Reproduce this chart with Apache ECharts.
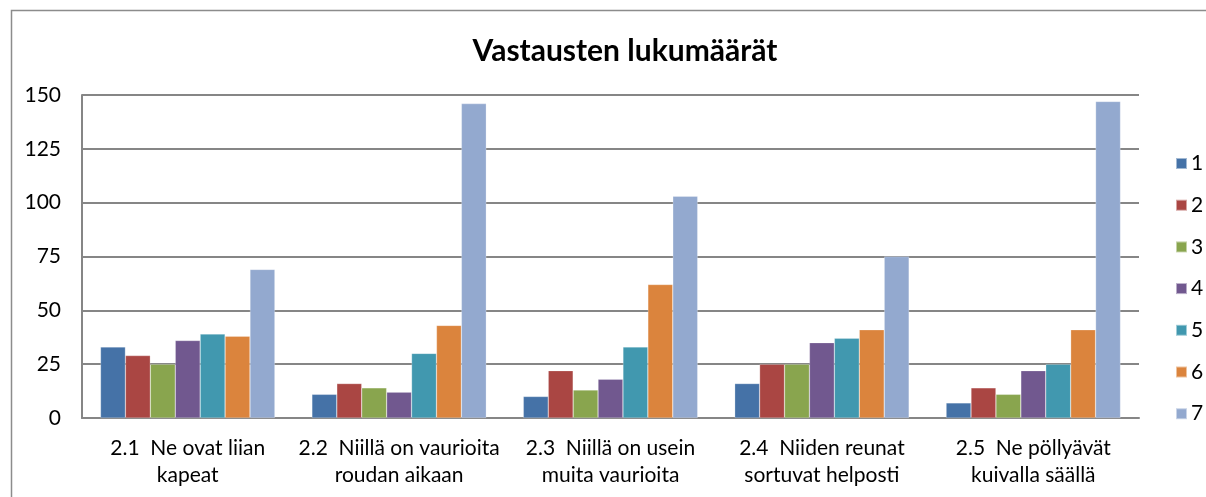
<!DOCTYPE html>
<html><head><meta charset="utf-8">
<script src="https://cdn.jsdelivr.net/npm/echarts@6/dist/echarts.min.js"></script>
<style>html,body{margin:0;padding:0;background:#fff;overflow:hidden;width:1206px;height:497px}#c{width:1206px;height:497px}</style>
</head><body><div id="c"></div>
<script>
const categories = [
  "2.1  Ne ovat liian\nkapeat",
  "2.2  Niillä on vaurioita\nroudan aikaan",
  "2.3  Niillä on usein\nmuita vaurioita",
  "2.4  Niiden reunat\nsortuvat helposti",
  "2.5  Ne pöllyävät\nkuivalla säällä"
];
const seriesNames = ["1","2","3","4","5","6","7"];
const s1 = [33, 11, 10, 16, 7];
const s2 = [29, 16, 22, 25, 14];
const s3 = [25, 14, 13, 25, 11];
const s4 = [36, 12, 18, 35, 22];
const s5 = [39, 30, 33, 37, 25];
const s6 = [38, 43, 62, 41, 41];
const s7 = [69, 146, 103, 75, 147];
const colors = ["#4572A7","#AA4643","#89A54E","#71588F","#4198AF","#DB843D","#93A9CF"];
const allData = [s1,s2,s3,s4,s5,s6,s7];
const FONT = "Lato, 'Open Sans', sans-serif";

const chart = echarts.init(document.getElementById('c'), null, {renderer:'canvas', width:1206, height:497});
chart.setOption({
  animation:false,
  backgroundColor:'#fff',
  color: colors,
  title:{text:'Vastausten lukumäärät', left:620, textAlign:'center', top:31,
    textStyle:{fontFamily:FONT, fontSize:30, fontWeight:'bold', color:'#000'}},
  graphic:[{type:'polyline', shape:{points:[[11.5,497],[11.5,10.5],[1206,10.5]]}, style:{fill:null, stroke:'#8c8c8c', lineWidth:1.5}, silent:true, z:-10}],
  legend:{orient:'vertical', left:1175, top:153, itemWidth:11, itemHeight:11, itemGap:20.7,
    icon:'rect', data:seriesNames, padding:0,
    textStyle:{fontFamily:FONT, fontSize:21, color:'#000', padding:[0,0,0,-1]}},
  grid:{left:82, top:95, right:67, bottom:79, containLabel:false},
  xAxis:{type:'category', data:categories,
    axisLine:{lineStyle:{color:'#868686', width:2}},
    axisTick:{show:false},
    axisLabel:{fontFamily:FONT, fontSize:21, color:'#000', margin:17, lineHeight:27, interval:0}},
  yAxis:{type:'value', min:0, max:150, interval:25,
    axisLine:{show:true, lineStyle:{color:'#868686', width:2}},
    axisTick:{show:false},
    splitLine:{lineStyle:{color:'#868686', width:2}},
    axisLabel:{fontFamily:FONT, fontSize:21, color:'#000', margin:21}},
  series: seriesNames.map((n,i)=>({name:n, type:'bar', data:allData[i],
    barGap:'0%', barCategoryGap:'17.5%',
    itemStyle:{color:colors[i], borderColor:'rgba(255,255,255,0.5)', borderWidth:0.5}}))
});
</script></body></html>
